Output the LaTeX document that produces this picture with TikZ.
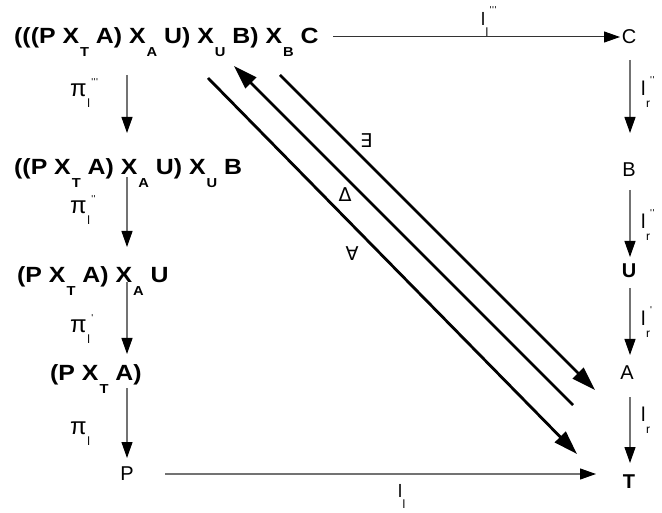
\documentclass[tikz,border=0pt]{standalone}
\usepackage{fontspec}
\setmainfont{Liberation Sans}
\newfontfamily\symfont{DejaVu Sans}
\newfontfamily\widebold[FakeStretch=1.13]{Liberation Sans Bold}
\usetikzlibrary{arrows.meta}
\newcommand\Xsub[1]{X\hspace{1pt}\raisebox{-13pt}{\fontsize{13}{13}\selectfont #1}}
\newcommand\pr{\textquotesingle\hspace{0.5pt}}
% main, sub, sup, subdrop, supraise, subsize
\newcommand\lbl[6]{#1\hspace{0.5pt}\rlap{\raisebox{-#4}{\fontsize{#6}{#6}\selectfont #2}}\hspace{4pt}\raisebox{#5}{\fontsize{10}{10}\selectfont #3}}
\begin{document}
\begin{tikzpicture}[x=1pt,y=-1pt,
  fm/.style={inner sep=0pt,anchor=base west,font=\widebold\fontsize{22}{22}\selectfont},
  rm/.style={inner sep=0pt,anchor=base,font=\fontsize{20}{20}\selectfont},
  bm/.style={inner sep=0pt,anchor=base,font=\fontsize{20}{20}\selectfont\bfseries},
  lab/.style={inner sep=0pt,anchor=base west,font=\fontsize{20}{20}\selectfont},
  sym/.style={inner sep=0pt,font=\fontsize{19}{19}\selectfont\symfont},
  varrow/.style={draw=black!55,line width=1.1pt,-{Triangle[length=16pt,width=11pt,fill=black,color=black]}},
  harrow/.style={draw=black!80,line width=1pt,-{Triangle[length=16pt,width=11pt,fill=black,color=black]}},
  darrow/.style={draw=black,line width=2.8pt,-{Triangle[length=24pt,width=15pt]}}]
\useasboundingbox (0,0) rectangle (662,513);
% left column
\node[fm] (r1) at (14,44) {(((P \Xsub{T} A) \Xsub{A} U) \Xsub{U} B) \Xsub{B} C};
\node[fm] (r2) at (14,175) {((P \Xsub{T} A) \Xsub{A} U) \Xsub{U} B};
\node[fm] (r3) at (17,283) {(P \Xsub{T} A) \Xsub{A} U};
\node[fm] (r4) at (50,381) {(P \Xsub{T} A)};
\node[rm] (P) at (127,480) {P};
% right column
\node[rm] (C) at (629,44) {C};
\node[rm] (B) at (629,177) {B};
\node[bm] (U) at (629,278) {U};
\node[rm] (A) at (627,380) {A};
\node[bm] (T) at (629,488) {T};
% arrow end points
\coordinate (a1s) at (127,75);  \coordinate (a1e) at (127,133);
\coordinate (a2s) at (127,177); \coordinate (a2e) at (127,247);
\coordinate (a3s) at (127,282); \coordinate (a3e) at (127,354);
\coordinate (a4s) at (127,388); \coordinate (a4e) at (127,458);
\coordinate (b1s) at (630,60);  \coordinate (b1e) at (630,133);
\coordinate (b2s) at (630,190); \coordinate (b2e) at (630,257);
\coordinate (b3s) at (630,288); \coordinate (b3e) at (630,355);
\coordinate (b4s) at (630,397); \coordinate (b4e) at (630,463);
\coordinate (ts) at (333,37);   \coordinate (te) at (620,37);
\coordinate (bs) at (165,474);  \coordinate (be) at (596,474);
\coordinate (d1s) at (208,78);  \coordinate (d1e) at (577,454);
\coordinate (d2s) at (573,405); \coordinate (d2e) at (234,66);
\coordinate (d3s) at (280,75);  \coordinate (d3e) at (595,390);
% arrows
\draw[varrow] (a1s) -- (a1e);
\draw[varrow] (a2s) -- (a2e);
\draw[varrow] (a3s) -- (a3e);
\draw[varrow] (a4s) -- (a4e);
\draw[varrow] (b1s) -- (b1e);
\draw[varrow] (b2s) -- (b2e);
\draw[varrow] (b3s) -- (b3e);
\draw[varrow] (b4s) -- (b4e);
\draw[harrow] (ts) -- (te);
\draw[varrow] (bs) -- (be);
\draw[darrow] (d1s) -- (d1e);
\draw[darrow] (d2s) -- (d2e);
\draw[darrow] (d3s) -- (d3e);
% labels
\node[lab,font=\fontsize{24}{24}\selectfont] (p3) at (70,97) {\lbl{π}{l}{\pr\pr\pr}{11pt}{11pt}{12}};
\node[lab,font=\fontsize{24}{24}\selectfont] (p2) at (70,214) {\lbl{π}{l}{\pr\pr}{11pt}{11pt}{12}};
\node[lab,font=\fontsize{24}{24}\selectfont] (p1) at (70,333) {\lbl{π}{l}{\pr}{11pt}{11pt}{12}};
\node[lab,font=\fontsize{24}{24}\selectfont] (p0) at (70,434) {\lbl{π}{l}{}{11pt}{11pt}{12}};
\node[lab] (q3) at (641,96) {\lbl{l}{r}{\pr\pr}{12pt}{12pt}{12}};
\node[lab] (q2) at (641,229) {\lbl{l}{r}{\pr\pr}{12pt}{12pt}{12}};
\node[lab] (q1) at (641,326) {\lbl{l}{r}{\pr}{12pt}{12pt}{12}};
\node[lab] (q0) at (641,421) {\lbl{l}{r}{}{12pt}{12pt}{12}};
\node[lab,font=\fontsize{18}{18}\selectfont] (lt) at (481,26) {\lbl{l}{l}{\pr\pr\pr}{11pt}{12pt}{12}};
\node[lab,font=\fontsize{18}{18}\selectfont] (lb) at (398,497) {\lbl{l}{l}{}{11pt}{12pt}{12}};
\node[sym] (ex) at (366,141) {∃};
\node[sym] (de) at (345,195) {Δ};
\node[sym] (fa) at (352,254) {∀};
\end{tikzpicture}
\end{document}
